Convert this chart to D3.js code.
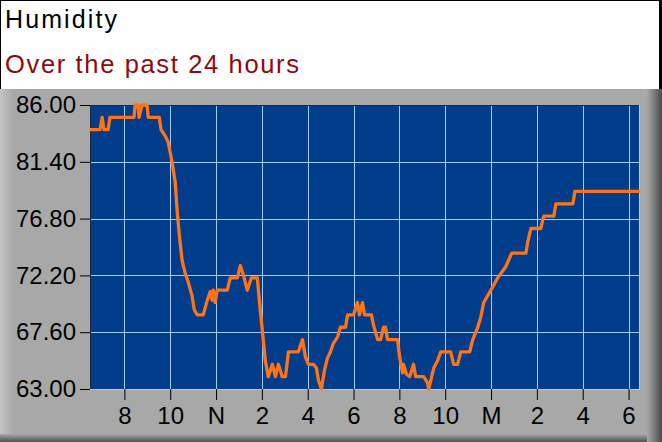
<!DOCTYPE html>
<html>
<head>
<meta charset="utf-8">
<script src="https://cdn.jsdelivr.net/npm/d3@7"></script>
<style>
  html, body { margin: 0; padding: 0; background: #fff; }
  svg { display: block; }
</style>
</head>
<body>
<div id="humidity_chart"></div>
<script>
// --------------------------- Data ---------------------------
// hour of day (past 24 continues into the next day) and humidity in %
const hours = [
  6.5, 6.94, 7.03, 7.11, 7.29, 7.37, 8.42, 8.47, 8.6, 8.64, 8.77, 8.99, 9.04, 9.52,
  9.6, 9.78, 9.91, 10.09, 10.22, 10.3, 10.39, 10.52, 10.65, 10.78, 10.96, 11.05,
  11.18, 11.44, 11.62, 11.75, 11.83, 11.88, 11.96, 12.05, 12.49, 12.62, 12.93,
  13.06, 13.23, 13.36, 13.54, 13.8, 13.93, 14.06, 14.15, 14.28, 14.46, 14.59,
  14.72, 14.89, 15.03, 15.16, 15.59, 15.77, 15.9, 16.03, 16.25, 16.38, 16.47,
  16.6, 16.73, 16.86, 16.99, 17.12, 17.3, 17.43, 17.65, 17.74, 18.0, 18.17,
  18.26, 18.39, 18.48, 18.78, 18.87, 19.05, 19.18, 19.31, 19.4, 19.48, 19.92,
  20.01, 20.14, 20.18, 20.31, 20.45, 20.62, 20.71, 21.06, 21.23, 21.28, 21.41,
  21.5, 21.67, 21.8, 22.24, 22.37, 22.54, 22.68, 23.07, 23.2, 23.42, 23.55,
  23.68, 23.99, 24.29, 24.64, 24.9, 25.52, 25.6, 25.74, 26.17, 26.3, 26.74,
  26.83, 27.57, 27.66, 30.5
];
const humidity = [
  84, 84, 85, 84, 84, 85, 85, 86, 86, 85, 86, 86, 85, 85,
  84, 83.5, 83, 81.3, 79.7, 77.5, 75.6, 73.4, 72.4, 71.7, 70.5, 69.4,
  69, 69, 70.2, 70.9, 70.2, 71, 70, 71, 71, 72, 72,
  73, 72, 71, 72, 72, 69.4, 67, 65.3, 64, 65, 64,
  65, 64, 64, 66, 66, 67, 65.6, 65, 65, 64.7, 63.7,
  63, 64.5, 65.5, 66, 66.7, 67.2, 68, 68, 69, 69, 70,
  69, 70, 69, 69, 68.2, 67, 67, 68, 68, 67, 67,
  65.6, 64.3, 65, 64.2, 64, 65, 64, 64, 63.5, 63, 64,
  64.7, 65.3, 66, 66, 65, 65, 66, 66, 67, 68, 68.8,
  70, 71, 72, 72.9, 74, 74, 74.9, 76, 76, 77, 77,
  78, 78, 79, 79
];
const xTicks = [8, 10, 12, 14, 16, 18, 20, 22, 24, 26, 28, 30];
const yTicks = [63, 67.6, 72.2, 76.8, 81.4, 86];
const title = "Humidity";
const subtitle = "Over the past 24 hours";

// --------------------------- Frame ---------------------------
const width = 662;
const height = 442;
const plot = { left: 90, right: 640, top: 105, bottom: 389 };

const svg = d3.select("#humidity_chart")
  .append("svg")
  .attr("width", width)
  .attr("height", height)
  .style("font-family", "'Liberation Sans', Arial, sans-serif");

const defs = svg.append("defs");
const shadeR = defs.append("linearGradient").attr("id", "shadeR");
shadeR.append("stop").attr("offset", "0%").attr("stop-color", "#a8a8a8");
shadeR.append("stop").attr("offset", "100%").attr("stop-color", "#4a4a4a");
const shadeB = defs.append("linearGradient").attr("id", "shadeB")
  .attr("x1", 0).attr("y1", 0).attr("x2", 0).attr("y2", 1);
shadeB.append("stop").attr("offset", "0%").attr("stop-color", "#a8a8a8");
shadeB.append("stop").attr("offset", "100%").attr("stop-color", "#505050");
const shadeL = defs.append("linearGradient").attr("id", "shadeL");
shadeL.append("stop").attr("offset", "0%").attr("stop-color", "#c4c4c4");
shadeL.append("stop").attr("offset", "100%").attr("stop-color", "#a8a8a8");

// header
svg.append("rect").attr("width", width).attr("height", 89).attr("fill", "#fff");
svg.append("rect").attr("x", 0).attr("y", 0).attr("width", width).attr("height", 1).attr("fill", "#000");
svg.append("rect").attr("x", 0).attr("y", 0).attr("width", 1).attr("height", 89).attr("fill", "#000");
svg.append("rect").attr("x", 659).attr("y", 0).attr("width", 3).attr("height", 89).attr("fill", "#000");

svg.append("text")
  .attr("x", 5).attr("y", 28)
  .attr("font-size", 25)
  .attr("textLength", 112).attr("lengthAdjust", "spacing")
  .attr("fill", "#000")
  .text(title);

svg.append("text")
  .attr("x", 5).attr("y", 73)
  .attr("font-size", 25.5)
  .attr("textLength", 294).attr("lengthAdjust", "spacing")
  .attr("fill", "#8e0a0a")
  .text(subtitle);

// gray panel with bevel
svg.append("rect").attr("x", 0).attr("y", 89).attr("width", width).attr("height", height - 89).attr("fill", "#a8a8a8");
svg.append("rect").attr("x", 0).attr("y", 89).attr("width", 13).attr("height", height - 89).attr("fill", "url(#shadeL)");
svg.append("rect").attr("x", 0).attr("y", 434).attr("width", width).attr("height", 8).attr("fill", "url(#shadeB)");
svg.append("rect").attr("x", 647).attr("y", 89).attr("width", 15).attr("height", height - 89).attr("fill", "url(#shadeR)");

// --------------------------- Scales ---------------------------
const x = d3.scaleLinear().domain([6.5, 30.5]).range([plot.left, plot.right]);
const y = d3.scaleLinear().domain([63, 86]).range([plot.bottom, plot.top]);

function hourLabel(h) {
  const hh = h % 24;
  if (hh === 0) return "M";
  if (hh === 12) return "N";
  return String(hh % 12);
}

// plot background
svg.append("rect")
  .attr("x", plot.left).attr("y", plot.top)
  .attr("width", plot.right - plot.left).attr("height", plot.bottom - plot.top)
  .attr("fill", "#023d8b");

// grid
const grid = svg.append("g").attr("stroke", "#a6cbf2").attr("stroke-width", 1);
grid.selectAll("line.v")
  .data(xTicks)
  .join("line")
  .attr("class", "v")
  .attr("x1", (d) => Math.round(x(d)) + 0.5).attr("x2", (d) => Math.round(x(d)) + 0.5)
  .attr("y1", plot.top).attr("y2", plot.bottom);
grid.selectAll("line.h")
  .data(yTicks)
  .join("line")
  .attr("class", "h")
  .attr("y1", (d) => Math.round(y(d)) + 0.5).attr("y2", (d) => Math.round(y(d)) + 0.5)
  .attr("x1", plot.left).attr("x2", plot.right);

// inset border: dark top/left, light bottom/right
svg.append("line").attr("x1", plot.left).attr("x2", plot.right).attr("y1", plot.top + 0.5).attr("y2", plot.top + 0.5).attr("stroke", "#1d2a3a");
svg.append("line").attr("x1", plot.left + 0.5).attr("x2", plot.left + 0.5).attr("y1", plot.top).attr("y2", plot.bottom).attr("stroke", "#1d2a3a");
svg.append("line").attr("x1", plot.left).attr("x2", plot.right).attr("y1", plot.bottom + 0.5).attr("y2", plot.bottom + 0.5).attr("stroke", "#a6cbf2");
svg.append("line").attr("x1", plot.right - 0.5).attr("x2", plot.right - 0.5).attr("y1", plot.top).attr("y2", plot.bottom).attr("stroke", "#a6cbf2");

// --------------------------- Line ---------------------------
const points = hours.map((h, i) => [h, humidity[i]]);

svg.append("path")
  .datum(points)
  .attr("fill", "none")
  .attr("stroke", "#ff7417")
  .attr("stroke-width", 3.3)
  .attr("stroke-linejoin", "round")
  .attr("d", d3.line().x((d) => x(d[0])).y((d) => y(d[1])));

// --------------------------- Axes ---------------------------
const yAxis = svg.append("g")
  .attr("transform", `translate(${plot.left},0)`)
  .call(d3.axisLeft(y).tickValues(yTicks).tickFormat(d3.format(".2f"))
    .tickSize(10).tickSizeOuter(0).tickPadding(4));

const xAxis = svg.append("g")
  .attr("transform", `translate(0,${plot.bottom})`)
  .call(d3.axisBottom(x).tickValues(xTicks).tickFormat(hourLabel)
    .tickSize(11).tickSizeOuter(0).tickPadding(7));

[yAxis, xAxis].forEach((g) => {
  g.select(".domain").remove();
  g.selectAll(".tick line").attr("stroke", "#000");
  g.selectAll(".tick text")
    .attr("fill", "#000")
    .attr("font-size", 24)
    .attr("font-family", "'Liberation Sans', Arial, sans-serif");
});
</script>
</body>
</html>
